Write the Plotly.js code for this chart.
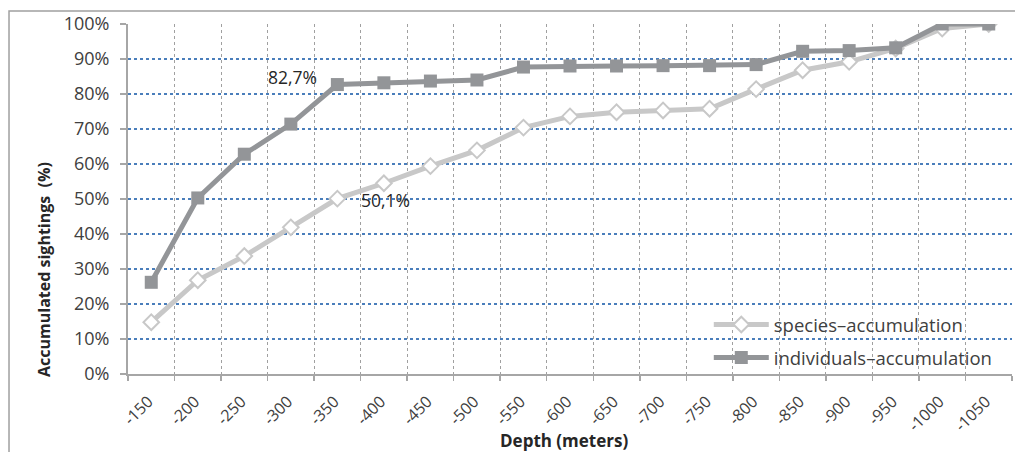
<!DOCTYPE html>
<html>
<head>
<meta charset="utf-8">
<script src="https://cdn.plot.ly/plotly-3.0.1.min.js"></script>
<style>
html,body{margin:0;padding:0;background:#fff;}
#chart{width:1015px;height:452px;}
</style>
</head>
<body>
<div id="chart"></div>
<script>
var depths = ['-150','-200','-250','-300','-350','-400','-450','-500','-550','-600','-650','-700','-750','-800','-850','-900','-950','-1000','-1050'];
var speciesAcc = [14.8,26.8,33.7,41.9,50.1,54.5,59.4,63.9,70.4,73.6,74.8,75.3,75.8,81.4,86.8,89.2,93.0,98.7,100];
var individualsAcc = [26.2,50.3,62.8,71.4,82.7,83.2,83.7,84.0,87.7,88.0,88.0,88.1,88.1,88.4,92.2,92.4,93.2,100,100];
var seriesNames = ['species\u2013accumulation','individuals\u2013accumulation'];
var xTitle = 'Depth (meters)';
var yTitle = 'Accumulated sightings  (%)';
var labelIndex = 4;

function fmt(v){ return v.toFixed(1).replace('.', ',') + '%'; }

var FONT = 'Open Sans, Noto Sans, Liberation Sans, sans-serif';

var traces = [
  {
    x: depths, y: speciesAcc, name: seriesNames[0], type: 'scatter', mode: 'lines+markers',
    legendgroup: 'a',
    line: {color: '#c8c8c8', width: 5},
    marker: {symbol: 'diamond', size: 12, color: '#ffffff', line: {color: '#c8c8c8', width: 2}}
  },
  {
    x: depths, y: individualsAcc, name: seriesNames[1], type: 'scatter', mode: 'lines+markers',
    legendgroup: 'b',
    line: {color: '#939598', width: 5},
    marker: {symbol: 'square', size: 13, color: '#939598'}
  }
];

var layout = {
  width: 1015, height: 452,
  margin: {l: 128, r: 3, t: 24, b: 78},
  paper_bgcolor: '#ffffff', plot_bgcolor: '#ffffff',
  font: {family: FONT, size: 16, color: '#404040'},
  showlegend: true,
  legend: {
    x: 0.657, y: 0.093, xanchor: 'left', yanchor: 'middle',
    bgcolor: 'rgba(0,0,0,0)', tracegroupgap: 6, itemwidth: 55,
    font: {family: FONT, size: 18.5, color: '#404040'}
  },
  xaxis: {
    type: 'category',
    range: [-0.5, depths.length - 0.5],
    tickson: 'boundaries',
    ticks: 'outside', ticklen: 5, tickcolor: '#a6a6a6', tickwidth: 1.5,
    tickangle: -45,
    ticklabelstandoff: 10, ticklabelshift: -3,
    tickfont: {family: FONT, size: 16, color: '#404040'},
    showline: true, linecolor: '#a6a6a6', linewidth: 2,
    showgrid: true, gridcolor: '#a0a0a0', griddash: 'dot', gridwidth: 1,
    fixedrange: true
  },
  yaxis: {
    range: [0, 100], dtick: 10, ticksuffix: '%',
    ticks: 'outside', ticklen: 6, tickcolor: '#a6a6a6', tickwidth: 1.5,
    ticklabelstandoff: 7,
    tickfont: {family: FONT, size: 18, color: '#404040'},
    showline: true, linecolor: '#a6a6a6', linewidth: 2,
    showgrid: true, gridcolor: '#4a7ebb', griddash: 'dot', gridwidth: 1.5,
    zeroline: false,
    fixedrange: true
  },
  annotations: [
    {x: labelIndex, y: individualsAcc[labelIndex], xref: 'x', yref: 'y',
     text: fmt(individualsAcc[labelIndex]), showarrow: false, xanchor: 'right', yanchor: 'middle',
     xshift: -18, yshift: 8, font: {family: FONT, size: 17.5, color: '#262626'}},
    {x: labelIndex, y: speciesAcc[labelIndex], xref: 'x', yref: 'y',
     text: fmt(speciesAcc[labelIndex]), showarrow: false, xanchor: 'left', yanchor: 'middle',
     xshift: 22, yshift: -1, font: {family: FONT, size: 17.5, color: '#262626'}},
    {x: 0.493, y: -0.189, xref: 'paper', yref: 'paper', text: '<b>' + xTitle + '</b>',
     showarrow: false, xanchor: 'center', yanchor: 'middle',
     font: {family: FONT, size: 17, color: '#262626'}},
    {x: -0.0945, y: 0.2986, xref: 'paper', yref: 'paper', text: '<b>' + yTitle + '</b>',
     showarrow: false, xanchor: 'center', yanchor: 'middle', textangle: -90,
     font: {family: FONT, size: 16, color: '#262626'}}
  ],
  shapes: [
    {type: 'path', xref: 'paper', yref: 'paper', path: 'M -0.1346,-0.3 L -0.1346,1.037 L 1.01,1.037',
     line: {color: '#a0a0a0', width: 1.5}, layer: 'below'}
  ]
};

Plotly.newPlot('chart', traces, layout, {displayModeBar: false, staticPlot: true});
</script>
</body>
</html>
